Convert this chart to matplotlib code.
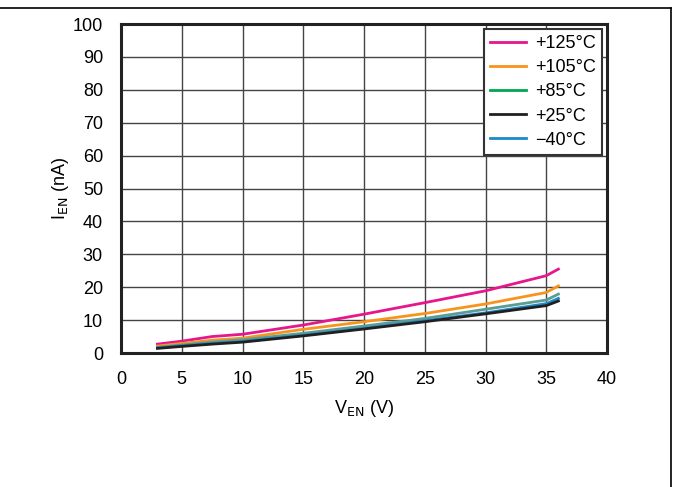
import matplotlib.pyplot as plt
from matplotlib.lines import Line2D

plt.rcParams['font.family'] = ['Liberation Sans', 'DejaVu Sans']

v_en = [3, 5, 7.5, 10, 15, 20, 25, 30, 35, 36]
i_125 = [2.7, 3.6, 5.0, 5.7, 8.5, 11.8, 15.3, 18.9, 23.5, 25.5]
i_105 = [2.1, 2.9, 3.9, 4.5, 7.2, 9.5, 12.0, 14.9, 18.4, 20.4]
i_85 = [1.7, 2.4, 3.3, 4.0, 6.0, 8.2, 10.5, 13.3, 16.1, 17.9]
i_m40 = [1.6, 2.2, 2.9, 3.5, 5.4, 7.5, 9.8, 12.2, 15.0, 16.6]
i_25 = [1.4, 2.0, 2.7, 3.3, 5.2, 7.3, 9.5, 11.9, 14.4, 15.8]

labels = ['+125°C', '+105°C', '+85°C', '+25°C', '\u221240°C']
colors = ['#e6168c', '#f7941d', '#00a651', '#231f20', '#1b8ac9']

fig = plt.figure(figsize=(6.73, 4.87), dpi=100)
ax = fig.add_axes([121 / 673, 134 / 487, 486 / 673, 329 / 487])

ax.plot(v_en, i_125, color=colors[0], lw=2)
ax.plot(v_en, i_105, color=colors[1], lw=2)
ax.plot(v_en, i_85, color='#5c9c92', lw=2)
ax.plot(v_en, i_m40, color=colors[4], lw=2)
ax.plot(v_en, i_25, color=colors[3], lw=2)

ax.set_xlim(0, 40)
ax.set_ylim(0, 100)
ax.set_xticks(range(0, 41, 5))
ax.set_yticks(range(0, 101, 10))
ax.grid(True, color='#444444', lw=1)
ax.set_axisbelow(True)
ax.tick_params(length=0, labelsize=13, pad=13)
for s in ax.spines.values():
    s.set_linewidth(2.2)
    s.set_color('#222222')

ax.set_xlabel('V$_{\\mathrm{EN}}$ (V)', fontsize=13, labelpad=7)
ax.set_ylabel('I$_{\\mathrm{EN}}$ (nA)', fontsize=13, labelpad=1)

handles = [Line2D([0], [0], color=c, lw=2) for c in colors]
leg = ax.legend(handles, labels, loc='upper right', fontsize=13,
                handlelength=2.0, handletextpad=0.5, labelspacing=0.4,
                borderaxespad=0.25, borderpad=0.35, fancybox=False, framealpha=1)
leg.get_frame().set_edgecolor('#333333')
leg.get_frame().set_linewidth(1.5)

# page frame lines
fig.add_artist(Line2D([0, 671 / 673], [1 - 8 / 487, 1 - 8 / 487], color='black', lw=1.2))
fig.add_artist(Line2D([671 / 673, 671 / 673], [0, 1 - 8 / 487], color='black', lw=1.2))

fig.savefig('out.png', dpi=100)
